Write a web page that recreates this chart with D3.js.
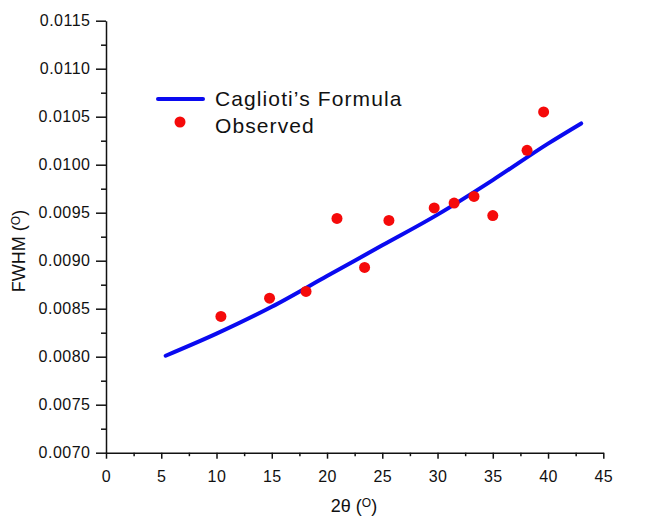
<!DOCTYPE html>
<html>
<head>
<meta charset="utf-8">
<script src="https://cdn.jsdelivr.net/npm/d3@7"></script>
<style>
  body { margin: 0; background: #fff; }
  text { font-family: "Liberation Sans", Arial, sans-serif; fill: #111; }
</style>
</head>
<body>
<div id="canvas"></div>
<script>
"use strict"

/* Data */
let obsAngle = [10.4, 14.8, 18.1, 20.9, 23.4, 25.6, 29.7, 31.5, 33.3, 35.0, 38.1, 39.6];
let obsFwhm = [0.00842, 0.00861, 0.00868, 0.00944, 0.00893, 0.00942, 0.00955, 0.00960, 0.00967, 0.00947, 0.01015, 0.01055];

let fitAngle = [5.4, 10, 15, 20, 25, 30, 35, 40, 43];
let fitFwhm = [0.00801, 0.00824, 0.00852, 0.00884, 0.00916, 0.00948, 0.00984, 0.01022, 0.01043];

let xTicks = [0, 5, 10, 15, 20, 25, 30, 35, 40, 45];
let yTicks = [0.0070, 0.0075, 0.0080, 0.0085, 0.0090, 0.0095, 0.0100, 0.0105, 0.0110, 0.0115];

/* Drawing configuration */
let svgWidth = 651;
let svgHeight = 517;
let plotLeft = 106, plotRight = 603.3, plotTop = 20.7, plotBottom = 452.7;

let svg = d3.select("#canvas")
    .append("svg")
    .attr("width", svgWidth)
    .attr("height", svgHeight);

let xScale = d3.scaleLinear()
    .domain([0, 45])
    .range([plotLeft, plotRight]);

let yScale = d3.scaleLinear()
    .domain([0.0070, 0.0115])
    .range([plotBottom, plotTop]);

/* minor ticks, halfway between majors */
let xMinor = xTicks.slice(0, -1).map(d => d + 2.5);
let yMinor = yTicks.slice(0, -1).map(d => d + 0.00025);

svg.append("g")
    .attr("transform", `translate(0,${plotBottom})`)
    .call(d3.axisBottom(xScale).tickValues(xMinor).tickSize(3.5).tickSizeOuter(0).tickFormat(""))
    .call(g => g.select(".domain").remove());

svg.append("g")
    .attr("transform", `translate(${plotLeft},0)`)
    .call(d3.axisLeft(yScale).tickValues(yMinor).tickSize(5).tickSizeOuter(0).tickFormat(""))
    .call(g => g.select(".domain").remove());

let xAxis = svg.append("g")
    .attr("transform", `translate(0,${plotBottom})`)
    .call(d3.axisBottom(xScale).tickValues(xTicks).tickSize(6).tickSizeOuter(0).tickPadding(11.5));

let yAxis = svg.append("g")
    .attr("transform", `translate(${plotLeft},0)`)
    .call(d3.axisLeft(yScale).tickValues(yTicks).tickSize(10).tickSizeOuter(0).tickPadding(5.5)
        .tickFormat(d3.format(".4f")));

svg.selectAll(".tick line, .domain")
    .attr("stroke", "#111")
    .attr("stroke-width", 1.5);

svg.selectAll(".tick text")
    .attr("font-size", 16)
    .attr("letter-spacing", 0.5)
    .attr("font-family", "Liberation Sans, Arial, sans-serif")
    .attr("fill", "#111");

/* Caglioti's formula curve */
let line = d3.line()
    .x((d, i) => xScale(fitAngle[i]))
    .y(d => yScale(d))
    .curve(d3.curveMonotoneX);

svg.append("path")
    .datum(fitFwhm)
    .attr("fill", "none")
    .attr("stroke", "#0a0af0")
    .attr("stroke-width", 4)
    .attr("stroke-linecap", "round")
    .attr("d", line);

/* observed points */
svg.selectAll("circle.obs")
    .data(obsFwhm)
    .join("circle")
    .attr("class", "obs")
    .attr("r", 5.5)
    .attr("fill", "#f50a0a")
    .attr("cx", (d, i) => xScale(obsAngle[i]))
    .attr("cy", d => yScale(d));

/* legend */
svg.append("line")
    .attr("x1", 158).attr("x2", 203)
    .attr("y1", 99).attr("y2", 99)
    .attr("stroke", "#0a0af0")
    .attr("stroke-width", 4)
    .attr("stroke-linecap", "round");

svg.append("circle")
    .attr("cx", 180).attr("cy", 122)
    .attr("r", 5.5)
    .attr("fill", "#f50a0a");

svg.append("text")
    .attr("x", 215).attr("y", 106)
    .attr("font-size", 21)
    .attr("letter-spacing", 1.1)
    .text("Caglioti\u2019s Formula");

svg.append("text")
    .attr("x", 215).attr("y", 133)
    .attr("font-size", 21)
    .attr("letter-spacing", 1.1)
    .text("Observed");

/* axis titles */
let xTitle = svg.append("text")
    .attr("x", 354)
    .attr("y", 512)
    .attr("text-anchor", "middle")
    .attr("font-size", 18);
xTitle.append("tspan").text("2\u03b8 (");
xTitle.append("tspan").attr("font-size", 12).attr("baseline-shift", "5").text("O");
xTitle.append("tspan").text(")");

let yTitle = svg.append("text")
    .attr("transform", "translate(25,251) rotate(-90)")
    .attr("text-anchor", "middle")
    .attr("font-size", 18);
yTitle.append("tspan").text("FWHM (");
yTitle.append("tspan").attr("font-size", 12).attr("baseline-shift", "5").text("O");
yTitle.append("tspan").text(")");
</script>
</body>
</html>
